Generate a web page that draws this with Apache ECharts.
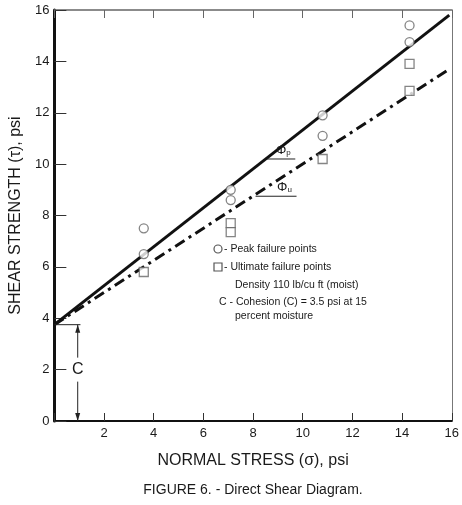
<!DOCTYPE html>
<html>
<head>
<meta charset="utf-8">
<script src="https://cdn.jsdelivr.net/npm/echarts@6/dist/echarts.min.js"></script>
<style>
html,body{margin:0;padding:0;background:#fff;}
#chart{width:462px;height:505px;}
</style>
</head>
<body>
<div id="chart"></div>
<script>
// ---- data ----
var peakX = [3.6, 3.6, 7.1, 7.1, 10.8, 10.8, 14.3, 14.3];
var peakY = [7.5, 6.5, 9.0, 8.6, 11.9, 11.1, 15.4, 14.75];
var ultX = [3.6, 7.1, 7.1, 10.8, 14.3, 14.3];
var ultY = [5.8, 7.7, 7.35, 10.2, 13.9, 12.85];
var peakLineX = [0, 15.9];
var peakLineY = [3.75, 15.8];
var ultLineX = [0, 15.9];
var ultLineY = [3.75, 13.7];
var cohesion = 3.75;
var xTicks = [0, 2, 4, 6, 8, 10, 12, 14, 16];
var yTicks = [0, 2, 4, 6, 8, 10, 12, 14, 16];
var legendLines = [
  "- Peak failure points",
  "- Ultimate failure points",
  "Density 110 lb/cu ft (moist)",
  "C - Cohesion (C) = 3.5 psi at 15",
  "percent moisture"
];
var xTitle = "NORMAL STRESS (\u03C3), psi";
var yTitle = "SHEAR STRENGTH (\u03C4), psi";
var caption = "FIGURE 6. - Direct Shear Diagram.";

function zip(a, b) { return a.map(function (v, i) { return [v, b[i]]; }); }

var FONT = "Liberation Sans";
var INK = "#1a1a1a";
var chart = echarts.init(document.getElementById('chart'), null, {renderer: 'canvas'});

var option = {
  animation: false,
  backgroundColor: '#fff',
  textStyle: {fontFamily: FONT, color: INK},
  grid: {left: 43, right: 10, top: 10, bottom: 84, containLabel: false},
  xAxis: [{
    type: 'value', min: xTicks[0], max: xTicks[xTicks.length - 1], interval: 2,
    position: 'bottom',
    name: xTitle, nameLocation: 'middle', nameGap: 32,
    nameTextStyle: {fontFamily: FONT, fontSize: 16, color: INK},
    axisLine: {show: true, onZero: false, lineStyle: {color: '#111', width: 2}},
    axisTick: {show: true, inside: true, length: 8, lineStyle: {color: '#333', width: 1}},
    axisLabel: {fontFamily: FONT, fontSize: 13, color: INK, margin: 6,
      formatter: function (v) { return v === 0 ? '' : String(v); }},
    splitLine: {show: false}
  }, {
    type: 'value', min: 0, max: 16, interval: 2, position: 'top',
    axisLine: {show: true, onZero: false, lineStyle: {color: '#666', width: 1.5}},
    axisTick: {show: true, inside: true, length: 8, lineStyle: {color: '#666', width: 1}},
    axisLabel: {show: false}, splitLine: {show: false}
  }],
  yAxis: [{
    type: 'value', min: yTicks[0], max: yTicks[yTicks.length - 1], interval: 2,
    position: 'left',
    name: yTitle, nameLocation: 'middle', nameGap: 29, nameRotate: 90,
    nameTextStyle: {fontFamily: FONT, fontSize: 16, color: INK},
    axisLine: {show: true, onZero: false, lineStyle: {color: '#111', width: 3}},
    axisTick: {show: true, inside: true, length: 12, lineStyle: {color: '#333', width: 1}},
    axisLabel: {fontFamily: FONT, fontSize: 13, color: INK, margin: 5},
    splitLine: {show: false}
  }, {
    type: 'value', min: 0, max: 16, interval: 2, position: 'right',
    axisLine: {show: true, onZero: false, lineStyle: {color: '#777', width: 1}},
    axisTick: {show: false}, axisLabel: {show: false}, splitLine: {show: false}
  }],
  series: [{
    type: 'line', name: 'peak line', data: zip(peakLineX, peakLineY),
    symbol: 'none', lineStyle: {color: '#111', width: 3}, z: 2
  }, {
    type: 'line', name: 'ultimate line', data: zip(ultLineX, ultLineY),
    symbol: 'none', lineStyle: {color: '#111', width: 3, type: [11, 5, 3, 5]}, z: 2
  }, {
    type: 'scatter', name: 'Peak failure points', data: zip(peakX, peakY),
    symbol: 'circle', symbolSize: 9,
    itemStyle: {color: '#fff', borderColor: '#666', borderWidth: 1.3}, z: 5
  }, {
    type: 'scatter', name: 'Ultimate failure points', data: zip(ultX, ultY),
    symbol: 'rect', symbolSize: 9,
    itemStyle: {color: '#fff', borderColor: '#666', borderWidth: 1.3}, z: 5
  }]
};
chart.setOption(option);

function px(x, y) { return chart.convertToPixel({xAxisIndex: 0, yAxisIndex: 0}, [x, y]); }

var g = [];
// phi annotations
function phi(x0, x1, y, sub) {
  var a = px(x0, y), b = px(x1, y);
  g.push({type: 'line', shape: {x1: a[0], y1: a[1], x2: b[0], y2: b[1]}, style: {stroke: '#222', lineWidth: 1}, z: 10});
  g.push({type: 'text', x: b[0] - 12, y: a[1] - 2, style: {
    text: '{a|\u03A6}{b|' + sub + '}',
    rich: {a: {font: '13px ' + FONT, fill: INK}, b: {font: '8px ' + FONT, fill: INK, padding: [6, 0, 0, 0]}},
    textAlign: 'center', textVerticalAlign: 'bottom'}, z: 10});
}
phi(8.55, 9.7, 10.2, "p");
phi(8.1, 9.75, 8.75, "u");

// cohesion annotation
var cx = 0.94;
var c0 = px(0, cohesion), c1 = px(1.05, cohesion), pTop = px(cx, cohesion), pBot = px(cx, 0), pMid = px(cx, 2.0);
g.push({type: 'line', shape: {x1: c0[0], y1: c0[1], x2: c1[0], y2: c1[1]}, style: {stroke: '#222', lineWidth: 1}, z: 10});
g.push({type: 'line', shape: {x1: pTop[0], y1: pTop[1], x2: pMid[0], y2: pMid[1] - 12}, style: {stroke: '#222', lineWidth: 1}, z: 10});
g.push({type: 'line', shape: {x1: pMid[0], y1: pMid[1] + 12, x2: pBot[0], y2: pBot[1]}, style: {stroke: '#222', lineWidth: 1}, z: 10});
g.push({type: 'polygon', shape: {points: [[pTop[0], pTop[1]], [pTop[0] - 2.5, pTop[1] + 8], [pTop[0] + 2.5, pTop[1] + 8]]}, style: {fill: '#222'}, z: 10});
g.push({type: 'polygon', shape: {points: [[pBot[0], pBot[1]], [pBot[0] - 2.5, pBot[1] - 8], [pBot[0] + 2.5, pBot[1] - 8]]}, style: {fill: '#222'}, z: 10});
g.push({type: 'text', x: pMid[0], y: pMid[1], style: {text: 'C', font: '16px ' + FONT, fill: INK, textAlign: 'center', textVerticalAlign: 'middle'}, z: 10});

// legend / notes block
var lx = [224, 224, 235, 219, 235];
var ly = [249, 267, 285, 302, 316];
legendLines.forEach(function (t, i) {
  g.push({type: 'text', x: lx[i], y: ly[i], style: {text: t, font: '10.5px ' + FONT, fill: INK, textAlign: 'left', textVerticalAlign: 'middle'}, z: 10});
});
g.push({type: 'circle', shape: {cx: 218, cy: 249, r: 4}, style: {fill: '#fff', stroke: '#555', lineWidth: 1.2}, z: 10});
g.push({type: 'rect', shape: {x: 214, y: 263, width: 8, height: 8}, style: {fill: '#fff', stroke: '#555', lineWidth: 1.2}, z: 10});

// caption
g.push({type: 'text', x: 253, y: 490, style: {text: caption, font: '14px ' + FONT, fill: INK, textAlign: 'center', textVerticalAlign: 'middle'}, z: 10});

chart.setOption({graphic: g});
</script>
</body>
</html>
